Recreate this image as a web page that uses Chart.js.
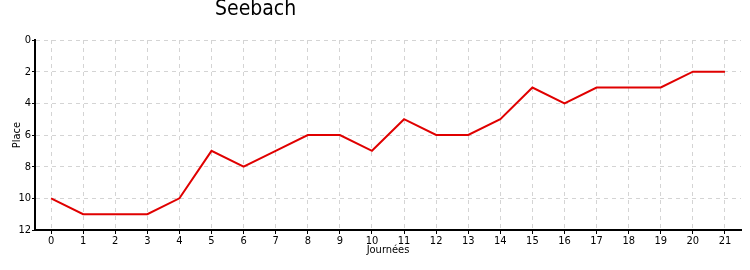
<!DOCTYPE html>
<html lang="fr">
<head>
    <meta charset="utf-8" />
    <title>Seebach</title>
    <script src="https://cdnjs.cloudflare.com/ajax/libs/Chart.js/4.4.1/chart.umd.min.js"></script>
    <style>
        html, body { margin: 0; padding: 0; background: #fff; }
        .wrap { position: relative; width: 750px; height: 270px; }
        .titre {
            position: absolute; left: 215px; top: -4px;
            font-family: "DejaVu Sans Condensed", "DejaVu Sans", sans-serif;
            font-size: 21px; color: #000;
        }
    </style>
</head>

<body>
    <div class="wrap">
        <div class="titre">Seebach</div>
        <canvas id="chart" width="750" height="270"></canvas>
    </div>
    <script>
        const equipe = 'Seebach';
        const journees = ['0', '1', '2', '3', '4', '5', '6', '7', '8', '9', '10',
            '11', '12', '13', '14', '15', '16', '17', '18', '19', '20', '21'];
        const places = [10, 11, 11, 11, 10, 7, 8, 7, 6, 6, 7, 5, 6, 6, 5, 3, 4, 3, 3, 3, 2, 2];
        const placeMin = 0;
        const placeMax = 12;

        const police = "'DejaVu Sans Condensed', 'DejaVu Sans', sans-serif";

        new Chart(document.getElementById('chart'), {
            type: 'line',
            data: {
                labels: journees,
                datasets: [{
                    label: equipe,
                    data: places,
                    borderColor: '#e00000',
                    borderWidth: 2,
                    pointRadius: 0,
                    tension: 0
                }]
            },
            options: {
                responsive: false,
                animation: false,
                layout: { padding: { top: 40, right: 9, left: 0, bottom: 0 } },
                plugins: {
                    legend: { display: false },
                    tooltip: { enabled: false }
                },
                scales: {
                    x: {
                        offset: true,
                        grid: {
                            offset: false,
                            color: '#d4d4d4',
                            tickColor: '#000',
                            tickLength: 4,
                            tickBorderDash: []
                        },
                        border: { color: '#000', width: 2, dash: [4, 4] },
                        ticks: { color: '#000', font: { family: police, size: 11 }, padding: 1, maxRotation: 0, autoSkip: false },
                        title: { display: true, text: 'Journées', color: '#000', font: { family: police, size: 11 }, padding: { top: 0, bottom: 13 } },
                        afterFit: function (scale) { scale.height = 40; }
                    },
                    y: {
                        reverse: true,
                        min: placeMin,
                        max: placeMax,
                        grid: {
                            color: ctx => ctx.tick && ctx.tick.value % 2 === 0 && ctx.tick.value !== placeMax ? '#d4d4d4' : 'rgba(0,0,0,0)',
                            tickColor: ctx => ctx.tick && ctx.tick.value % 2 === 0 ? '#000' : '#ff2020',
                            tickLength: 3,
                            tickBorderDash: []
                        },
                        border: { color: '#000', width: 2, dash: [4, 4] },
                        ticks: {
                            stepSize: 1,
                            color: '#000',
                            padding: 1,
                            font: { family: police, size: 11 },
                            callback: v => v % 2 === 0 ? v : ''
                        },
                        title: { display: true, text: 'Place', color: '#000', font: { family: police, size: 11 }, padding: { top: 11, bottom: 0 } },
                        afterFit: function (scale) { scale.width = 35; }
                    }
                }
            }
        });
    </script>
</body>

</html>
